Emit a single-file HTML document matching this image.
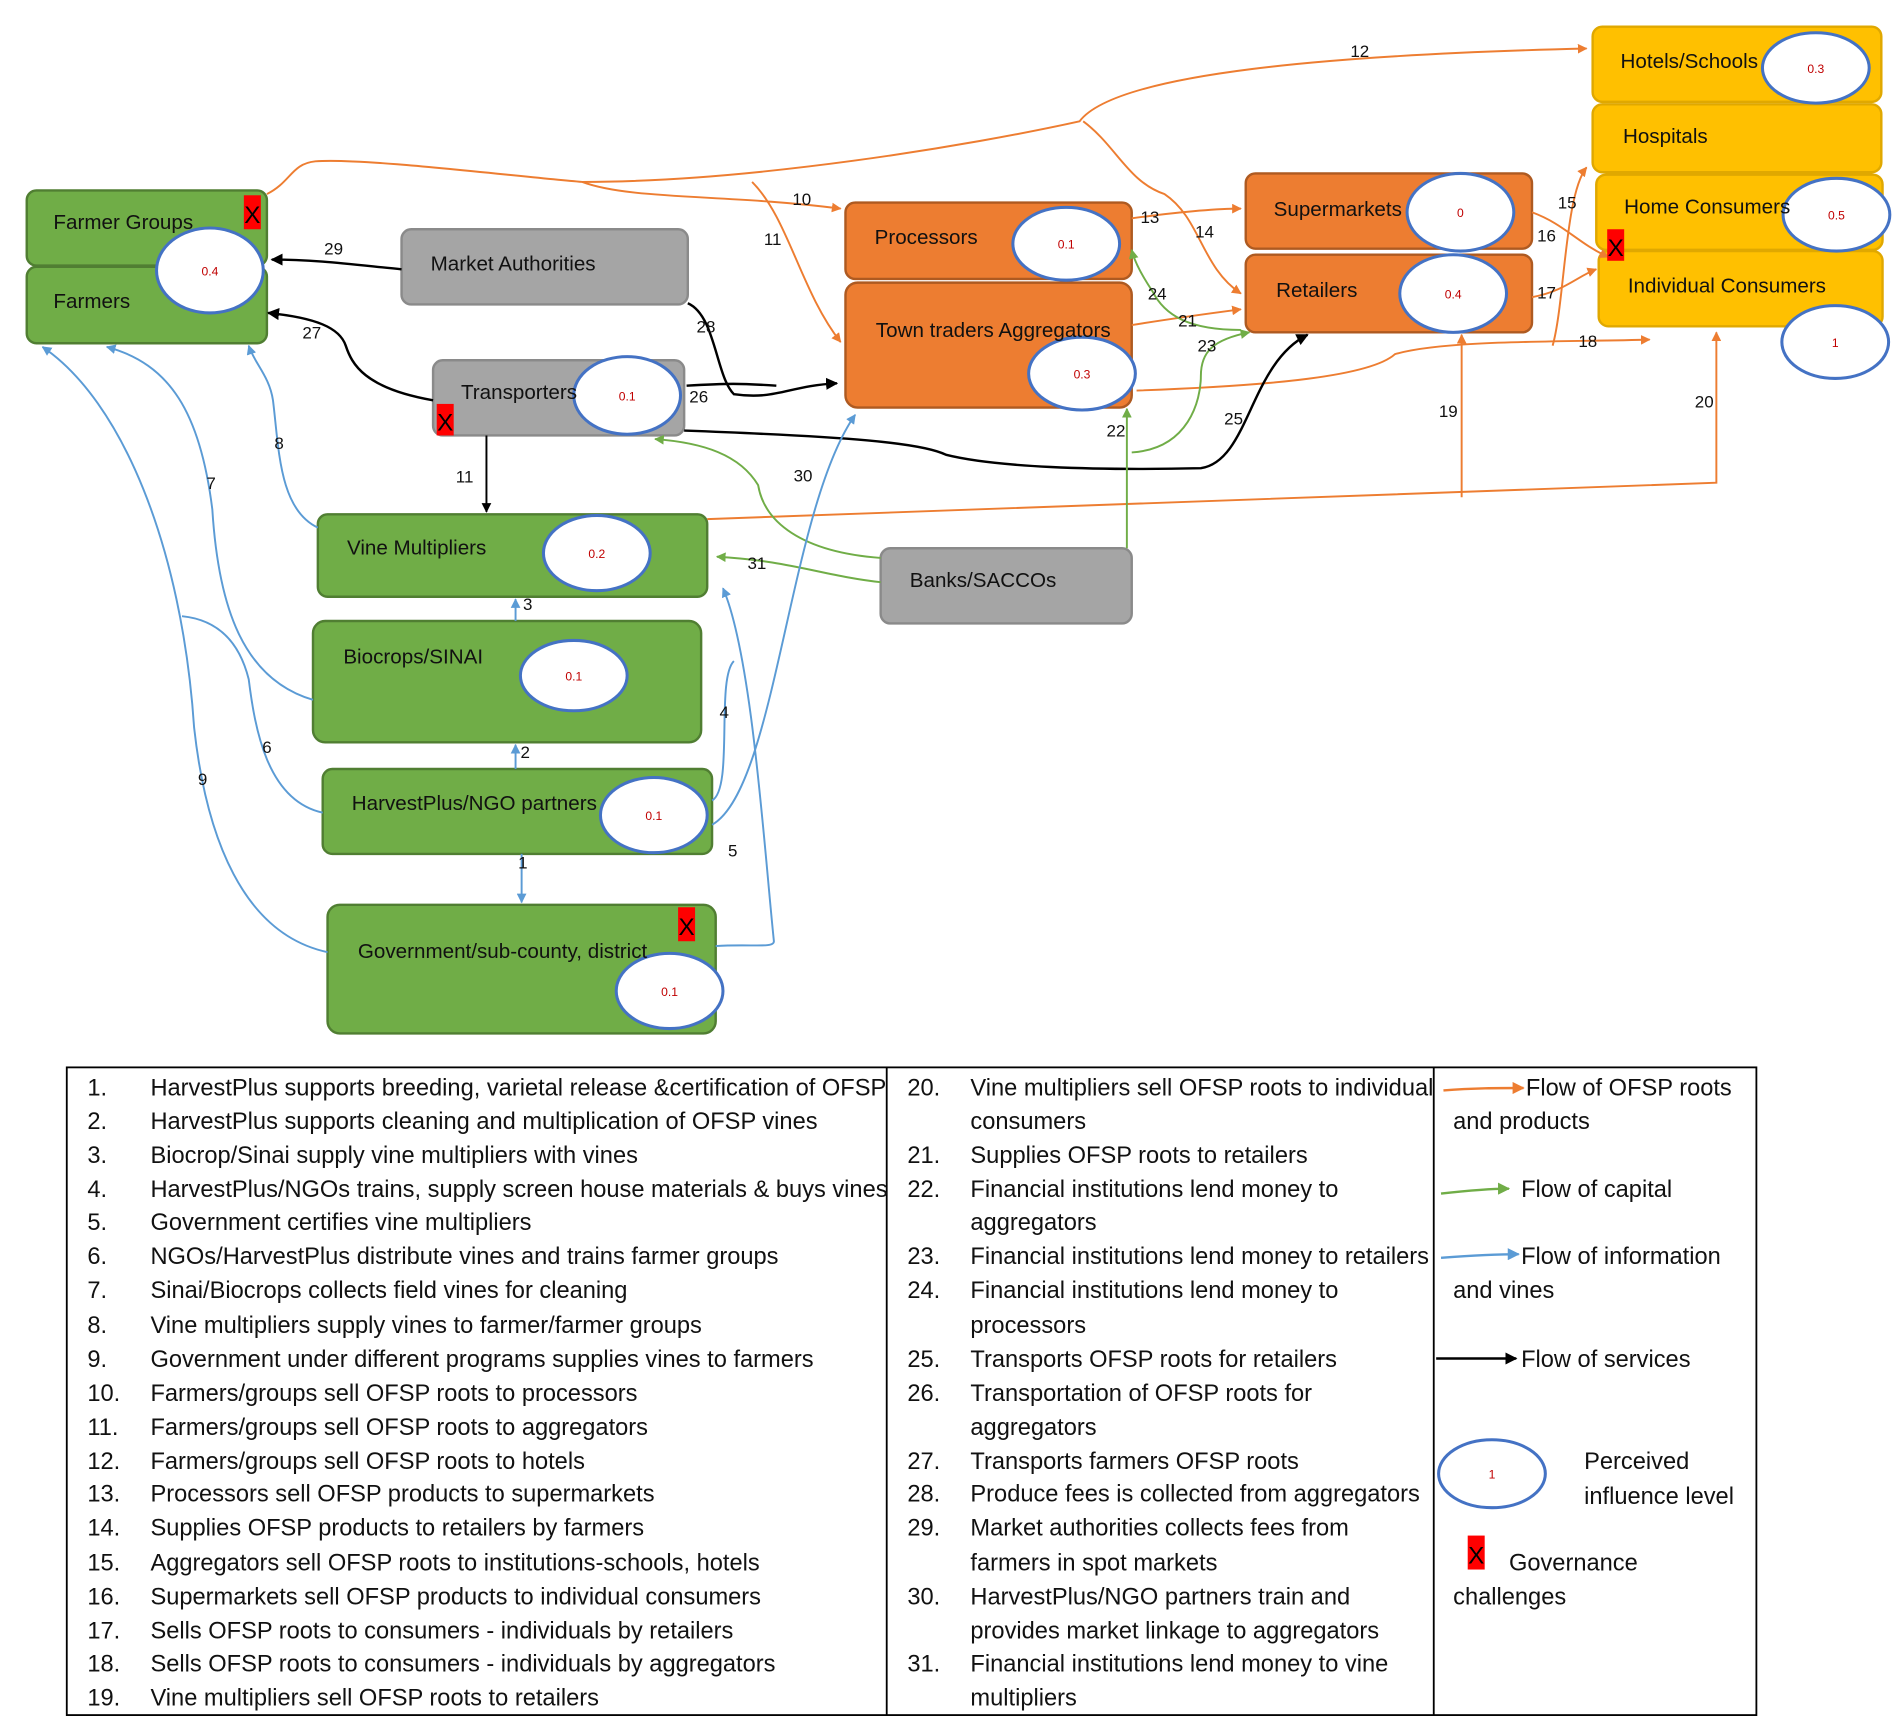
<!DOCTYPE html>
<html><head><meta charset="utf-8"><style>
html,body{margin:0;padding:0;background:#fff;}
svg{display:block;}
text{font-family:"Liberation Sans Narrow","Liberation Sans",sans-serif;}
</style></head><body>
<svg width="1902" height="1726" viewBox="0 0 1568 1423" xmlns="http://www.w3.org/2000/svg">
<defs>
<marker id="ao" viewBox="0 0 10 10" refX="9" refY="5" markerWidth="5" markerHeight="5" orient="auto"><path d="M0,0L10,5L0,10z" fill="#ED7D31"/></marker>
<marker id="ag" viewBox="0 0 10 10" refX="9" refY="5" markerWidth="5" markerHeight="5" orient="auto"><path d="M0,0L10,5L0,10z" fill="#70AD47"/></marker>
<marker id="ab" viewBox="0 0 10 10" refX="9" refY="5" markerWidth="5" markerHeight="5" orient="auto"><path d="M0,0L10,5L0,10z" fill="#5B9BD5"/></marker>
<marker id="ak" viewBox="0 0 10 10" refX="9" refY="5" markerWidth="5" markerHeight="5" orient="auto"><path d="M0,0L10,5L0,10z" fill="#000"/></marker>
</defs>
<rect width="1568" height="1423" fill="#fff"/>

<!-- boxes -->
<g stroke-width="2">
<rect x="22" y="157" width="198" height="62" rx="8" fill="#70AD47" stroke="#507E32"/>
<rect x="22" y="220" width="198" height="63" rx="8" fill="#70AD47" stroke="#507E32"/>
<rect x="331" y="189" width="236" height="62" rx="8" fill="#A5A5A5" stroke="#8a8a8a"/>
<rect x="357" y="297" width="207" height="62" rx="8" fill="#A5A5A5" stroke="#8a8a8a"/>
<rect x="697" y="167" width="236" height="63" rx="8" fill="#ED7D31" stroke="#AE5A21"/>
<rect x="697" y="233" width="236" height="103" rx="10" fill="#ED7D31" stroke="#AE5A21"/>
<rect x="1027" y="143" width="236" height="62" rx="8" fill="#ED7D31" stroke="#AE5A21"/>
<rect x="1027" y="210" width="236" height="64" rx="8" fill="#ED7D31" stroke="#AE5A21"/>
<rect x="1313" y="22" width="238" height="62" rx="8" fill="#FFC000" stroke="#e0a800"/>
<rect x="1313" y="86" width="238" height="56" rx="8" fill="#FFC000" stroke="#e0a800"/>
<rect x="1316" y="144" width="236" height="62" rx="8" fill="#FFC000" stroke="#e0a800"/>
<rect x="1318" y="207" width="234" height="62" rx="8" fill="#FFC000" stroke="#e0a800"/>
<rect x="262" y="424" width="321" height="68" rx="8" fill="#70AD47" stroke="#507E32"/>
<rect x="258" y="512" width="320" height="100" rx="10" fill="#70AD47" stroke="#507E32"/>
<rect x="266" y="634" width="321" height="70" rx="8" fill="#70AD47" stroke="#507E32"/>
<rect x="270" y="746" width="320" height="106" rx="10" fill="#70AD47" stroke="#507E32"/>
<rect x="726" y="452" width="207" height="62" rx="8" fill="#A5A5A5" stroke="#8a8a8a"/>
</g>

<!-- connectors -->
<g fill="none" stroke-width="1.6">
<!-- orange -->
<path d="M220,160 C240,150 240,135 260,133 C300,130 420,145 480,150 C620,150 800,120 890,100 C920,60 1100,45 1308,40" stroke="#ED7D31" marker-end="url(#ao)"/>
<path d="M480,150 C520,165 600,160 693,172" stroke="#ED7D31" marker-end="url(#ao)"/>
<path d="M620,150 C650,180 660,240 693,282" stroke="#ED7D31" marker-end="url(#ao)"/>
<path d="M933,180 C970,175 1000,172 1023,172" stroke="#ED7D31" marker-end="url(#ao)"/>
<path d="M893,100 C920,120 930,150 960,160 C990,180 990,220 1023,242" stroke="#ED7D31" marker-end="url(#ao)"/>
<path d="M933,268 C970,262 1000,258 1023,255" stroke="#ED7D31" marker-end="url(#ao)"/>
<path d="M937,322 C1050,318 1130,310 1150,292 C1190,280 1290,282 1360,280" stroke="#ED7D31" marker-end="url(#ao)"/>
<path d="M1280,285 C1290,250 1290,160 1308,138" stroke="#ED7D31" marker-end="url(#ao)"/>
<path d="M1263,175 C1290,185 1300,200 1326,212" stroke="#ED7D31" marker-end="url(#ao)"/>
<path d="M1263,245 C1290,240 1300,228 1316,222" stroke="#ED7D31" marker-end="url(#ao)"/>
<path d="M583,428 L1415,398 L1415,274" stroke="#ED7D31" marker-end="url(#ao)"/>
<path d="M1205,410 L1205,276" stroke="#ED7D31" marker-end="url(#ao)"/>
<!-- black -->
<path d="M331,222 C290,218 260,214 224,214" stroke="#000" stroke-width="2" marker-end="url(#ak)"/>
<path d="M357,330 C300,320 290,300 285,285 C280,270 260,262 221,258" stroke="#000" stroke-width="2" marker-end="url(#ak)"/>
<path d="M567,250 C590,260 590,310 605,325 C640,330 650,318 690,316" stroke="#000" stroke-width="2" marker-end="url(#ak)"/>
<path d="M566,318 C600,316 610,316 640,318" stroke="#000" stroke-width="2"/>
<path d="M564,355 C700,360 760,365 780,375 C820,385 900,388 990,386 C1030,380 1030,300 1078,276" stroke="#000" stroke-width="2" marker-end="url(#ak)"/>
<path d="M401,359 L401,422" stroke="#000" stroke-width="1.6" marker-end="url(#ak)"/>
<!-- green -->
<path d="M929,452 L929,337" stroke="#70AD47" marker-end="url(#ag)"/>
<path d="M933,373 C980,370 990,330 990,310 C990,290 1000,280 1030,274" stroke="#70AD47" marker-end="url(#ag)"/>
<path d="M1023,272 C980,272 960,260 950,240 C940,225 935,215 933,206" stroke="#70AD47" marker-end="url(#ag)"/>
<path d="M726,480 C680,475 650,462 591,459" stroke="#70AD47" marker-end="url(#ag)"/>
<path d="M726,460 C660,455 630,430 625,400 C610,375 580,365 540,362" stroke="#70AD47" marker-end="url(#ag)"/>
<!-- blue -->
<path d="M262,435 C230,420 230,370 225,330 C222,310 210,300 205,285" stroke="#5B9BD5" marker-end="url(#ab)"/>
<path d="M258,577 C200,560 180,500 175,420 C165,340 140,300 88,286" stroke="#5B9BD5" marker-end="url(#ab)"/>
<path d="M266,670 C220,660 210,600 205,560 C195,520 170,510 150,508" stroke="#5B9BD5"/>
<path d="M270,785 C200,770 170,690 160,600 C150,450 100,330 35,286" stroke="#5B9BD5" marker-end="url(#ab)"/>
<path d="M425,634 L425,614" stroke="#5B9BD5" marker-end="url(#ab)"/>
<path d="M425,512 L425,494" stroke="#5B9BD5" marker-end="url(#ab)"/>
<path d="M430,704 L430,744" stroke="#5B9BD5" marker-end="url(#ab)"/>
<path d="M587,660 C605,650 590,560 605,545" stroke="#5B9BD5"/>
<path d="M590,780 C620,778 638,782 638,776 C630,700 620,540 596,485" stroke="#5B9BD5" marker-end="url(#ab)"/>
<path d="M587,680 C640,650 650,420 705,342" stroke="#5B9BD5" marker-end="url(#ab)"/>
</g>

<!-- ellipses -->
<g fill="#fff" stroke="#4472C4" stroke-width="2.5">
<ellipse cx="173" cy="223" rx="44" ry="35"/>
<ellipse cx="517" cy="326" rx="44" ry="32"/>
<ellipse cx="879" cy="201" rx="44" ry="30"/>
<ellipse cx="892" cy="308" rx="44" ry="30"/>
<ellipse cx="1204" cy="175" rx="44" ry="32"/>
<ellipse cx="1198" cy="242" rx="44" ry="32"/>
<ellipse cx="1497" cy="56" rx="44" ry="29"/>
<ellipse cx="1514" cy="177" rx="44" ry="30"/>
<ellipse cx="1513" cy="282" rx="44" ry="30"/>
<ellipse cx="492" cy="456" rx="44" ry="31"/>
<ellipse cx="473" cy="557" rx="44" ry="29"/>
<ellipse cx="539" cy="672" rx="44" ry="31"/>
<ellipse cx="552" cy="817" rx="44" ry="31"/>
<ellipse cx="1230" cy="1215" rx="44" ry="28"/>
</g>
<g fill="#C00000" font-size="10" text-anchor="middle">
<text x="173" y="227">0.4</text><text x="517" y="330">0.1</text><text x="879" y="205">0.1</text>
<text x="892" y="312">0.3</text><text x="1204" y="179">0</text><text x="1198" y="246">0.4</text>
<text x="1497" y="60">0.3</text><text x="1514" y="181">0.5</text><text x="1513" y="286">1</text>
<text x="492" y="460">0.2</text><text x="473" y="561">0.1</text><text x="539" y="676">0.1</text>
<text x="552" y="821">0.1</text><text x="1230" y="1219">1</text>
</g>

<!-- red X -->
<g font-size="20" text-anchor="middle">
<rect x="201" y="161" width="14" height="28" fill="#FF0000"/><text x="208" y="184">X</text>
<rect x="360" y="333" width="14" height="26" fill="#FF0000"/><text x="367" y="355">X</text>
<rect x="1325" y="189" width="14" height="26" fill="#FF0000"/><text x="1332" y="211">X</text>
<rect x="559" y="748" width="14" height="28" fill="#FF0000"/><text x="566" y="771">X</text>
<rect x="1210" y="1266" width="14" height="28" fill="#FF0000"/><text x="1217" y="1289">X</text>
</g>

<!-- node labels -->
<g font-size="17" fill="#111">
<text x="44" y="189">Farmer Groups</text>
<text x="44" y="254">Farmers</text>
<text x="355" y="223">Market Authorities</text>
<text x="380" y="329">Transporters</text>
<text x="721" y="201">Processors</text>
<text x="722" y="278">Town traders Aggregators</text>
<text x="1050" y="178">Supermarkets</text>
<text x="1052" y="245">Retailers</text>
<text x="1336" y="56">Hotels/Schools</text>
<text x="1338" y="118">Hospitals</text>
<text x="1339" y="176">Home Consumers</text>
<text x="1342" y="241">Individual Consumers</text>
<text x="286" y="457">Vine Multipliers</text>
<text x="283" y="547">Biocrops/SINAI</text>
<text x="290" y="668">HarvestPlus/NGO partners</text>
<text x="295" y="790">Government/sub-county, district</text>
<text x="750" y="484">Banks/SACCOs</text>
</g>

<!-- connector labels -->
<g font-size="14" fill="#111" text-anchor="middle">
<text x="1121" y="47">12</text><text x="661" y="169">10</text><text x="637" y="202">11</text>
<text x="948" y="184">13</text><text x="993" y="196">14</text><text x="1292" y="172">15</text>
<text x="1275" y="199">16</text><text x="1275" y="246">17</text><text x="1309" y="286">18</text>
<text x="1194" y="344">19</text><text x="1405" y="336">20</text><text x="979" y="269">21</text>
<text x="920" y="360">22</text><text x="995" y="290">23</text><text x="954" y="247">24</text>
<text x="1017" y="350">25</text><text x="576" y="332">26</text><text x="257" y="279">27</text>
<text x="582" y="274">28</text><text x="275" y="210">29</text><text x="662" y="397">30</text>
<text x="624" y="469">31</text><text x="383" y="398">11</text><text x="230" y="370">8</text>
<text x="174" y="403">7</text><text x="220" y="621">6</text><text x="167" y="647">9</text>
<text x="435" y="503">3</text><text x="433" y="625">2</text><text x="597" y="592">4</text>
<text x="604" y="706">5</text><text x="431" y="716">1</text>
</g>

<!-- table -->
<g fill="none" stroke="#000" stroke-width="1.5">
<rect x="55" y="880" width="1393" height="534"/>
<line x1="731" y1="880" x2="731" y2="1414"/>
<line x1="1182" y1="880" x2="1182" y2="1414"/>
</g>
<g font-size="19.5" fill="#111">
<text x="72" y="903">1.</text><text x="124" y="903">HarvestPlus supports breeding, varietal release &amp;certification of OFSP</text>
<text x="72" y="931">2.</text><text x="124" y="931">HarvestPlus supports cleaning and multiplication of OFSP vines</text>
<text x="72" y="959">3.</text><text x="124" y="959">Biocrop/Sinai supply vine multipliers with vines</text>
<text x="72" y="987">4.</text><text x="124" y="987">HarvestPlus/NGOs trains, supply screen house materials &amp; buys vines</text>
<text x="72" y="1014">5.</text><text x="124" y="1014">Government certifies vine multipliers</text>
<text x="72" y="1042">6.</text><text x="124" y="1042">NGOs/HarvestPlus distribute vines and trains farmer groups</text>
<text x="72" y="1070">7.</text><text x="124" y="1070">Sinai/Biocrops collects field vines for cleaning</text>
<text x="72" y="1099">8.</text><text x="124" y="1099">Vine multipliers supply vines to farmer/farmer groups</text>
<text x="72" y="1127">9.</text><text x="124" y="1127">Government under different programs supplies vines to farmers</text>
<text x="72" y="1155">10.</text><text x="124" y="1155">Farmers/groups sell OFSP roots to processors</text>
<text x="72" y="1183">11.</text><text x="124" y="1183">Farmers/groups sell OFSP roots to aggregators</text>
<text x="72" y="1211">12.</text><text x="124" y="1211">Farmers/groups sell OFSP roots to hotels</text>
<text x="72" y="1238">13.</text><text x="124" y="1238">Processors sell OFSP products to supermarkets</text>
<text x="72" y="1266">14.</text><text x="124" y="1266">Supplies OFSP products to retailers by farmers</text>
<text x="72" y="1295">15.</text><text x="124" y="1295">Aggregators sell OFSP roots to institutions-schools, hotels</text>
<text x="72" y="1323">16.</text><text x="124" y="1323">Supermarkets sell OFSP products to individual consumers</text>
<text x="72" y="1351">17.</text><text x="124" y="1351">Sells OFSP roots to consumers - individuals by retailers</text>
<text x="72" y="1378">18.</text><text x="124" y="1378">Sells OFSP roots to consumers - individuals by aggregators</text>
<text x="72" y="1406">19.</text><text x="124" y="1406">Vine multipliers sell OFSP roots to retailers</text>

<text x="748" y="903">20.</text><text x="800" y="903">Vine multipliers sell OFSP roots to individual</text>
<text x="800" y="931">consumers</text>
<text x="748" y="959">21.</text><text x="800" y="959">Supplies OFSP roots to retailers</text>
<text x="748" y="987">22.</text><text x="800" y="987">Financial institutions lend money to</text>
<text x="800" y="1014">aggregators</text>
<text x="748" y="1042">23.</text><text x="800" y="1042">Financial institutions lend money to retailers</text>
<text x="748" y="1070">24.</text><text x="800" y="1070">Financial institutions lend money to</text>
<text x="800" y="1099">processors</text>
<text x="748" y="1127">25.</text><text x="800" y="1127">Transports OFSP roots for retailers</text>
<text x="748" y="1155">26.</text><text x="800" y="1155">Transportation of OFSP roots for</text>
<text x="800" y="1183">aggregators</text>
<text x="748" y="1211">27.</text><text x="800" y="1211">Transports farmers OFSP roots</text>
<text x="748" y="1238">28.</text><text x="800" y="1238">Produce fees is collected from aggregators</text>
<text x="748" y="1266">29.</text><text x="800" y="1266">Market authorities collects fees from</text>
<text x="800" y="1295">farmers in spot markets</text>
<text x="748" y="1323">30.</text><text x="800" y="1323">HarvestPlus/NGO partners train and</text>
<text x="800" y="1351">provides market linkage to aggregators</text>
<text x="748" y="1378">31.</text><text x="800" y="1378">Financial institutions lend money to vine</text>
<text x="800" y="1406">multipliers</text>

<text x="1258" y="903">Flow of OFSP roots</text>
<text x="1198" y="931">and products</text>
<text x="1254" y="987">Flow of capital</text>
<text x="1254" y="1042">Flow of information</text>
<text x="1198" y="1070">and vines</text>
<text x="1254" y="1127">Flow of services</text>
<text x="1306" y="1211">Perceived</text>
<text x="1306" y="1240">influence level</text>
<text x="1244" y="1295">Governance</text>
<text x="1198" y="1323">challenges</text>
</g>
<g fill="none" stroke-width="2">
<path d="M1190,899 C1215,897 1235,897 1256,897" stroke="#ED7D31" marker-end="url(#ao)"/>
<path d="M1188,984 C1215,981 1235,980 1244,980" stroke="#70AD47" marker-end="url(#ag)"/>
<path d="M1188,1037 C1215,1035 1235,1034 1252,1034" stroke="#5B9BD5" marker-end="url(#ab)"/>
<path d="M1184,1120 L1250,1120" stroke="#000" marker-end="url(#ak)"/>
</g>
</svg>
</body></html>
